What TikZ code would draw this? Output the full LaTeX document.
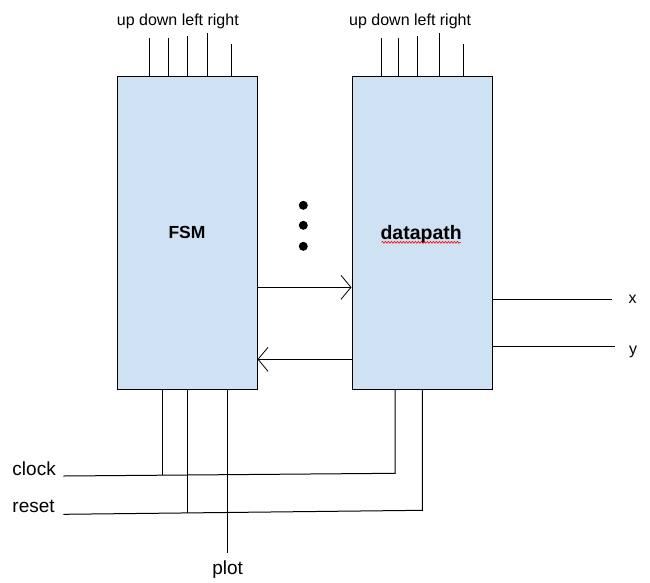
\documentclass[tikz,border=0pt]{standalone}
\usepackage{fontspec}
\setmainfont{Liberation Sans}
\usetikzlibrary{arrows.meta,decorations.pathmorphing}
\definecolor{boxblue}{HTML}{CFE2F3}
\begin{document}
\begin{tikzpicture}[x=1pt,y=-1pt,
  box/.style={draw=black, fill=boxblue, line width=1pt, minimum width=140pt, minimum height=313pt, inner sep=0pt},
  wire/.style={line width=1pt},
  toplbl/.style={font=\fontsize{16}{19}\selectfont, inner sep=0pt, anchor=base west},
  siglbl/.style={font=\fontsize{19}{22}\selectfont, inner sep=0pt},
  outlbl/.style={font=\fontsize{16}{19}\selectfont, inner sep=0pt, anchor=base},
  dot/.style={circle, fill=black, inner sep=0pt, minimum size=9pt},
  arr/.style={line width=1pt, -{Straight Barb[length=10pt,width=24pt,line width=0.8pt]}}]
\useasboundingbox (0,0) rectangle (650,582);

% blocks
\node[box, font=\fontsize{17.5}{21}\selectfont\bfseries] (fsm) at (187,232.5) {FSM};
\node[box, font=\fontsize{19.5}{23}\selectfont\bfseries, text depth=0pt, yshift=0pt] (dp) at (422,232.5) {};
\node[font=\fontsize{19.5}{23}\selectfont\bfseries, inner sep=0pt, anchor=base] (dplbl) at (421.2,239.3) {datapath};
\draw[red, line width=0.6pt, decorate, decoration={snake, amplitude=1pt, segment length=3pt}] (381.5,242.3) -- (461,242.3);

% top labels
\node[toplbl] (fsmin) at (116.7,25) {up down left right};
\node[toplbl] (dpin) at (349,25) {up down left right};

% top wires FSM
\draw[wire] (149.7,38) -- (149.7,38 |- fsm.north);
\draw[wire] (168,38) -- (168,38 |- fsm.north);
\draw[wire] (187,36) -- (187,36 |- fsm.north);
\draw[wire] (207.3,33) -- (207.3,33 |- fsm.north);
\draw[wire] (231.3,44) -- (231.3,44 |- fsm.north);
% top wires datapath
\draw[wire] (381.3,38) -- (381.3,38 |- dp.north);
\draw[wire] (398.7,38) -- (398.7,38 |- dp.north);
\draw[wire] (417.7,36) -- (417.7,36 |- dp.north);
\draw[wire] (439.3,33) -- (439.3,33 |- dp.north);
\draw[wire] (463.7,44) -- (463.7,44 |- dp.north);

% dots
\node[dot] (d1) at (303.3,205.3) {};
\node[dot] (d2) at (303.3,225.3) {};
\node[dot] (d3) at (303.3,246.3) {};

% arrows between blocks
\draw[arr] (fsm.east |- 0,287.3) -- (dp.west |- 0,287.3);
\draw[arr] (dp.west |- 0,359.3) -- (fsm.east |- 0,359.3);

% outputs
\coordinate (xo) at (611.7,299);
\coordinate (yo) at (615,346.7);
\draw[wire] (dp.east |- xo) -- (xo);
\draw[wire] (dp.east |- yo) -- (yo);
\node[outlbl] (xl) at (632.7,303.3) {x};
\node[outlbl] (yl) at (633,354) {y};

% clock, reset, plot
\node[siglbl, anchor=base west] (clk) at (12.3,475.7) {clock};
\node[siglbl, anchor=base west] (rst) at (12.3,512.3) {reset};
\node[siglbl, anchor=base] (plt) at (227.7,574.3) {plot};

\coordinate (ck0) at (63.3,476);
\coordinate (ck1) at (395,473.3);
\coordinate (rs0) at (63.3,514.3);
\coordinate (rs1) at (422.3,510.3);
\coordinate (pl1) at (227.7,553);

\draw[wire] (ck0) -- (ck1) -- (dp.south -| ck1);
\draw[wire] (fsm.south -| 162.3,0) -- (162.3,475);
\draw[wire] (rs0) -- (rs1) -- (dp.south -| rs1);
\draw[wire] (fsm.south -| 187.7,0) -- (187.7,512.5);
\draw[wire] (fsm.south -| pl1) -- (pl1);
\end{tikzpicture}
\end{document}
